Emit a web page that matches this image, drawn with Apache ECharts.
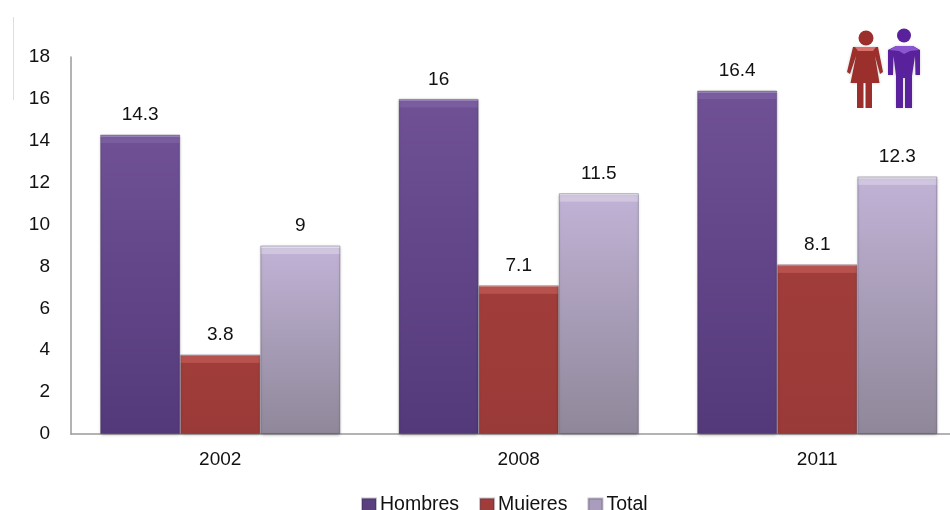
<!DOCTYPE html>
<html><head><meta charset="utf-8">
<style>html,body{margin:0;padding:0;background:#fff}#c{width:950px;height:510px}</style>
<script src="https://cdn.jsdelivr.net/npm/echarts@6/dist/echarts.min.js"></script>
</head><body><div id="c"></div>
<script>
const categories = ['2002','2008','2011'];
const hombres = [14.3,16,16.4];
const mujeres = [3.8,7.1,8.1];
const total = [9,11.5,12.3];
const chart = echarts.init(document.getElementById('c'),null,{renderer:'canvas'});
const font = 'Liberation Sans, Arial, sans-serif';
const PLOT_H = 377, YMAX = 18;
function styled(values, edge, bevel, topc, botc){
  return values.map(v=>{
    const h = v/YMAX*PLOT_H, a = 2/h, b = 8/h, c = 9/h;
    return {value:v,itemStyle:{color:{type:'linear',x:0,y:0,x2:0,y2:1,colorStops:[
      {offset:0,color:edge},{offset:a,color:edge},{offset:a+0.001,color:bevel},{offset:b,color:bevel},{offset:c,color:topc},{offset:1,color:botc}]}}};
  });
}
function series(name,values,edge,bevel,topc,botc,legendColor){
  return {name,type:'bar',data:styled(values,edge,bevel,topc,botc),barGap:0,barCategoryGap:'19.5%',
    itemStyle:{color:legendColor,borderColor:'rgba(40,30,60,0.28)',borderWidth:1,shadowColor:'rgba(0,0,0,0.3)',shadowBlur:3,shadowOffsetY:1},
    label:{show:true,position:'top',distance:10,color:'#111',fontFamily:font,fontSize:19}};
}
const red='#9a2f2c', redHi='#d9706c', pur='#5a219c', purHi='#8a55cf';
chart.setOption({
  animation:false,backgroundColor:'#fff',
  grid:{left:71,top:57,width:895.5,height:PLOT_H,containLabel:false,outerBoundsMode:'none'},
  legend:{left:356,top:490,itemGap:20,itemWidth:14,itemHeight:13,icon:'rect',
    textStyle:{fontFamily:font,fontSize:19.5,color:'#111',padding:[0,0,0,-1]},
    data:['Hombres','Mujeres','Total']},
  xAxis:{type:'category',data:categories,axisTick:{show:false},
    axisLine:{lineStyle:{color:'#9a9a9a',width:1.5}},
    axisLabel:{fontFamily:font,fontSize:19,color:'#111',margin:16}},
  yAxis:{type:'value',min:0,max:18,interval:2,splitLine:{show:false},axisTick:{show:false},
    axisLine:{show:true,lineStyle:{color:'#9a9a9a',width:1.5}},
    axisLabel:{fontFamily:font,fontSize:19,color:'#111',margin:21}},
  series:[
    series('Hombres',hombres,'#9a82bc','#7a5d9f','#6f5095','#53397a','#5b4080'),
    series('Mujeres',mujeres,'#d98a86','#b8524f','#a03d3a','#9a3a38','#a03d3a'),
    series('Total',total,'#e6e0ee','#d0c6e0','#bfb1d4','#8f8799','#a99cbc')
  ],
  graphic:[
    {type:'line',shape:{x1:13.5,y1:17,x2:13.5,y2:100},style:{stroke:'#f6d3d6',lineWidth:1}},
    {type:'circle',shape:{cx:866,cy:38,r:7.5},style:{fill:red}},
    {type:'polygon',shape:{points:[[853,47],[878,47],[883,72],[880,74],[875,56],[879.5,83],[850.5,83],[856,56],[850,74],[847,72]]},style:{fill:red,shadowColor:'rgba(0,0,0,0.2)',shadowBlur:3}},
    {type:'polygon',shape:{points:[[855,47],[876,47],[873,51],[858,51]]},style:{fill:redHi}},
    {type:'rect',shape:{x:857,y:83,width:6.5,height:25},style:{fill:red}},
    {type:'rect',shape:{x:865.5,y:83,width:6.5,height:25},style:{fill:red}},
    {type:'circle',shape:{cx:904,cy:35.5,r:7},style:{fill:pur}},
    {type:'polygon',shape:{points:[[896,46],[913,46],[920,50],[920,75],[915.5,75],[915,56],[912,76],[912,108],[905,108],[905,78],[903,78],[903,108],[896,108],[896,76],[893.5,56],[893,75],[888,75],[888,50]]},style:{fill:pur,shadowColor:'rgba(0,0,0,0.2)',shadowBlur:3}},
    {type:'polygon',shape:{points:[[896,46],[913,46],[919,50],[910,51],[904,54],[899,51],[889,50]]},style:{fill:purHi}}
  ]
});
</script></body></html>
